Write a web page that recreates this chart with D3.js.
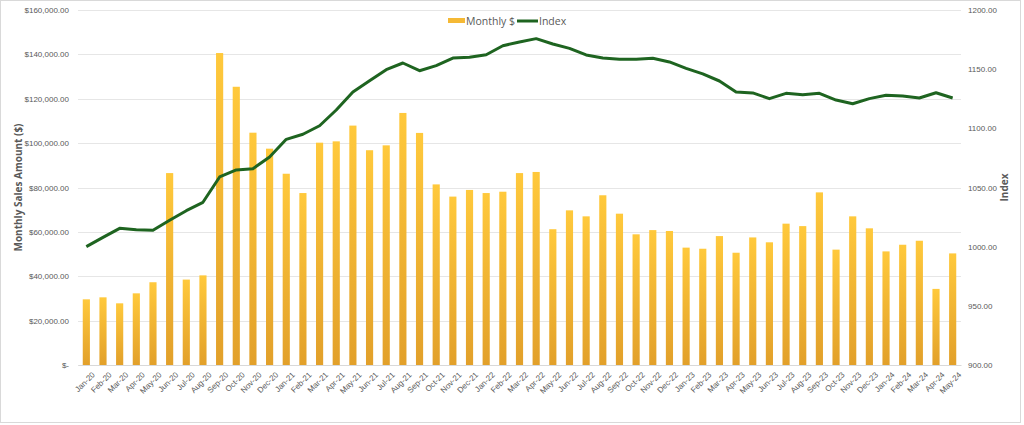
<!DOCTYPE html>
<html><head><meta charset="utf-8">
<script src="https://cdn.jsdelivr.net/npm/d3@7"></script>
<style>
body{margin:0;background:#fff;}
svg{display:block;font-family:"Open Sans","Liberation Sans",Arial,sans-serif;}
</style></head>
<body>
<svg id="c" width="1024" height="425"></svg>
<script>
const months = ["Jan-20","Feb-20","Mar-20","Apr-20","May-20","Jun-20","Jul-20","Aug-20","Sep-20","Oct-20","Nov-20","Dec-20",
"Jan-21","Feb-21","Mar-21","Apr-21","May-21","Jun-21","Jul-21","Aug-21","Sep-21","Oct-21","Nov-21","Dec-21",
"Jan-22","Feb-22","Mar-22","Apr-22","May-22","Jun-22","Jul-22","Aug-22","Sep-22","Oct-22","Nov-22","Dec-22",
"Jan-23","Feb-23","Mar-23","Apr-23","May-23","Jun-23","Jul-23","Aug-23","Sep-23","Oct-23","Nov-23","Dec-23",
"Jan-24","Feb-24","Mar-24","Apr-24","May-24"];
const monthly = [29600,30500,27800,32300,37300,86500,38500,40400,140600,125400,104700,97500,
86200,77500,100200,100800,107900,96800,99000,113600,104600,81400,75900,78900,
77500,78100,86500,87000,61200,69700,67000,76500,68200,58900,60800,60400,
52900,52400,58100,50600,57500,55300,63700,62600,77800,52000,67000,61600,
51200,54200,56000,34300,50300];
const indexVals = [1000,1007.9,1015.5,1014.3,1013.8,1022.3,1030.4,1037.5,1058.9,1064.8,1065.9,1075.8,
1090.7,1095.0,1102.2,1115.5,1130.7,1140.3,1149.6,1155.2,1148.7,1153.0,1159.4,1160.0,
1162.2,1169.8,1173.0,1175.8,1171.3,1167.6,1162.0,1159.4,1158.3,1158.3,1159.2,1156.1,
1150.7,1146.0,1140.0,1130.7,1129.9,1125.1,1129.6,1128.4,1129.6,1123.9,1120.8,1125.1,
1127.9,1127.3,1125.6,1130.1,1125.6];
const leftTicks = [0,20000,40000,60000,80000,100000,120000,140000,160000];
const rightTicks = [900,950,1000,1050,1100,1150,1200];
const seriesNames = ["Monthly $","Index"];

const svg = d3.select("#c");
const W=1024,H=425;
const m = {l:78, r:63, t:10, b:60};
const x0 = m.l, x1 = W-m.r, y0 = H-m.b, y1 = m.t;

// outer border
svg.append("rect").attr("x",0.5).attr("y",0.5).attr("width",1020).attr("height",422)
  .attr("fill","#fff").attr("stroke","#d9d9d9");

const x = d3.scaleBand().domain(months).range([x0,x1]).paddingInner(0.57).paddingOuter(0.285);
const yL = d3.scaleLinear().domain([0,160000]).range([y0,y1]);
const yR = d3.scaleLinear().domain([900,1200]).range([y0,y1]);

const defs = svg.append("defs");
const g = defs.append("linearGradient").attr("id","bg").attr("x1",0).attr("y1",0).attr("x2",0).attr("y2",1);
g.append("stop").attr("offset","0%").attr("stop-color","#ffc93c");
g.append("stop").attr("offset","100%").attr("stop-color","#e2a02a");

// gridlines
svg.append("g").selectAll("line").data(leftTicks).join("line")
  .attr("x1",x0).attr("x2",x1).attr("y1",d=>Math.round(yL(d))+0.5).attr("y2",d=>Math.round(yL(d))+0.5)
  .attr("stroke","#e6e6e6").attr("stroke-width",1);

// left axis
const fmtL = d=> d===0 ? "$-" : "$" + d3.format(",.2f")(d);
const axL = svg.append("g").attr("transform",`translate(${x0},0)`)
  .call(d3.axisLeft(yL).tickValues(leftTicks).tickFormat(fmtL).tickSize(0).tickPadding(9));
axL.select(".domain").remove();
axL.selectAll("text").attr("fill","#595959").style("font-size","8px");

// right axis
const axR = svg.append("g").attr("transform",`translate(${x1},0)`)
  .call(d3.axisRight(yR).tickValues(rightTicks).tickFormat(d3.format(".2f")).tickSize(0).tickPadding(7));
axR.select(".domain").remove();
axR.selectAll("text").attr("fill","#595959").style("font-size","8px");

// bottom axis
const axB = svg.append("g").attr("transform",`translate(0,${y0})`)
  .call(d3.axisBottom(x).tickSize(0).tickPadding(9));
axB.select(".domain").attr("stroke","#d9d9d9");
axB.selectAll("text").attr("fill","#595959").style("font-size","8px")
  .attr("text-anchor","end").attr("dx","-0.1em").attr("dy","0.6em")
  .attr("transform","rotate(-45)");

// bars
svg.append("g").selectAll("rect").data(monthly).join("rect")
  .attr("x",(d,i)=>x(months[i])).attr("width",x.bandwidth())
  .attr("y",d=>yL(d)).attr("height",d=>y0-yL(d)).attr("fill","url(#bg)");

// line
const line = d3.line().x((d,i)=>x(months[i])+x.bandwidth()/2).y(d=>yR(d));
svg.append("path").datum(indexVals).attr("d",line).attr("fill","none")
  .attr("stroke","#1e6420").attr("stroke-width",3).attr("stroke-linejoin","round");

// axis titles
svg.append("text").attr("transform",`translate(22,${(y0+y1)/2}) rotate(-90)`)
  .attr("text-anchor","middle").attr("fill","#595959").style("font-size","10px").style("font-weight","bold")
  .text("Monthly Sales Amount ($)");
svg.append("text").attr("transform",`translate(1008,${(y0+y1)/2}) rotate(-90)`)
  .attr("text-anchor","middle").attr("fill","#595959").style("font-size","10px").style("font-weight","bold")
  .text("Index");

// legend
const lg = svg.append("g");
lg.append("rect").attr("x",448).attr("y",18).attr("width",17).attr("height",5).attr("fill","#f5b935");
lg.append("text").attr("x",466).attr("y",25).attr("fill","#595959").style("font-size","10.5px").text(seriesNames[0]);
lg.append("line").attr("x1",517).attr("x2",538).attr("y1",21).attr("y2",21).attr("stroke","#1e6420").attr("stroke-width",3);
lg.append("text").attr("x",539).attr("y",25).attr("fill","#595959").style("font-size","10.5px").text(seriesNames[1]);
</script>
</body></html>
